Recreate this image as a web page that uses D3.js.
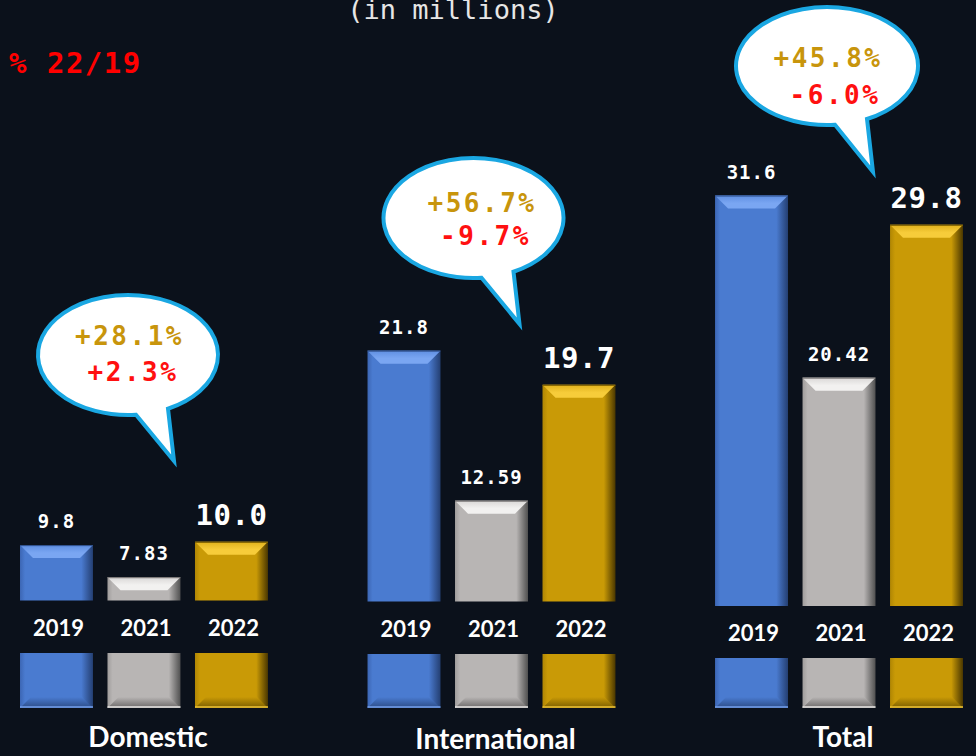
<!DOCTYPE html>
<html>
<head>
<meta charset="utf-8">
<script src="https://cdn.jsdelivr.net/npm/d3@7/dist/d3.min.js"></script>
<style>
  html,body{margin:0;padding:0;background:#0b111b;}
  svg{display:block;}
</style>
</head>
<body>
<svg id="chart" width="976" height="756"></svg>
<script>
// ---------- DATA ----------
const groups = ["Domestic", "International", "Total"];
const years = ["2019", "2021", "2022"];
const values2019 = [9.8, 21.8, 31.6];
const values2021 = [7.83, 12.59, 20.42];
const values2022 = [10.0, 19.7, 29.8];
const change22vs21 = [28.1, 56.7, 45.8];
const change22vs19 = [2.3, -9.7, -6.0];
const titleText = "(in millions)";
const legendNote = "% 22/19";

// ---------- LAYOUT / STYLE ----------
const W = 976, H = 756;
const bg = "#0b111b";
const baselines = [600.5, 601.5, 606];
const legendTops = [653, 654, 658];
const legendBottom = 708;
const yearBaselines = [636, 637, 641];
const groupLabelBaselines = [747, 749, 747];
const bubbleCenters = [[128, 355], [473.5, 218], [827, 66]];
const bubbleRadii = [[90, 60], [90, 60], [91, 59]];
const bubbleTextOffsets = [[[1.5, -10], [5, 26]], [[8.5, -6], [12, 27]], [[1, 1], [8, 38]]];
const mono = "'DejaVu Sans Mono', monospace";
const sans = "Lato, 'Open Sans', sans-serif";

const palette = {
  "2019": {main: "#4a7bd0", left: "#3c66b4", right: "#243f72", bevelTop: "#5f8fe2", bevelBot: "#7aa6f2", dark: "#2c4c86"},
  "2021": {main: "#b8b5b4", left: "#a09d9c", right: "#505050", bevelTop: "#d9d7d6", bevelBot: "#f2f1f0", dark: "#6b6868"},
  "2022": {main: "#c99a06", left: "#b08604", right: "#4a3700", bevelTop: "#e0b11c", bevelBot: "#f7cc3a", dark: "#7a5d00"}
};
const fmtYear = {"2019": d3.format(".1f"), "2021": d3.format(".2f"), "2022": d3.format(".1f")};
const fmtPct = d => (d >= 0 ? "+" : "-") + Math.abs(d).toFixed(1) + "%";

const seriesByYear = {"2019": values2019, "2021": values2021, "2022": values2022};

// ---------- SCALES ----------
const xGroup = d3.scaleBand().domain(groups).range([20, 963]).paddingInner(0.2865).paddingOuter(0);
const xYear = d3.scaleBand().domain(years).range([0, xGroup.bandwidth()]).paddingInner(0.166).paddingOuter(0);
const yHeight = d3.scaleLinear().domain([6.4, 32]).range([0, 417]);

const svg = d3.select("#chart");
svg.append("rect").attr("width", W).attr("height", H).attr("fill", bg);

const defs = svg.append("defs");
years.forEach(y => {
  const p = palette[y];
  const g = defs.append("linearGradient").attr("id", "side" + y).attr("x1", 0).attr("x2", 1).attr("y1", 0).attr("y2", 0);
  g.append("stop").attr("offset", "0%").attr("stop-color", p.left);
  g.append("stop").attr("offset", "7%").attr("stop-color", p.main);
  g.append("stop").attr("offset", "84%").attr("stop-color", p.main);
  g.append("stop").attr("offset", "100%").attr("stop-color", p.right);
  const b = defs.append("linearGradient").attr("id", "bevel" + y).attr("x1", 0).attr("x2", 0).attr("y1", 0).attr("y2", 1);
  b.append("stop").attr("offset", "0%").attr("stop-color", p.bevelTop);
  b.append("stop").attr("offset", "60%").attr("stop-color", p.bevelBot);
  b.append("stop").attr("offset", "100%").attr("stop-color", p.bevelBot);
  const d = defs.append("linearGradient").attr("id", "bevelDark" + y).attr("x1", 0).attr("x2", 0).attr("y1", 0).attr("y2", 1);
  d.append("stop").attr("offset", "0%").attr("stop-color", p.main);
  d.append("stop").attr("offset", "100%").attr("stop-color", p.dark);
});

// ---------- TITLES ----------
svg.append("text").attr("x", 453).attr("y", 19).attr("text-anchor", "middle")
  .attr("font-family", mono).attr("font-size", 27).attr("fill", "#e6e6e6")
  .text(titleText);
svg.append("text").attr("x", 9).attr("y", 73).attr("text-anchor", "start")
  .attr("font-family", mono).attr("font-weight", "bold").attr("font-size", 29)
  .attr("letter-spacing", 1.5).attr("fill", "#ff0000")
  .text(legendNote);

// ---------- GROUPS ----------
const bevel = 13;
groups.forEach((grp, gi) => {
  const g = svg.append("g").attr("transform", `translate(${xGroup(grp)},0)`);
  const base = baselines[gi];
  const w = xYear.bandwidth();

  years.forEach(yr => {
    const v = seriesByYear[yr][gi];
    const x = xYear(yr);
    const h = yHeight(v);
    const top = base - h;
    // bar body
    g.append("rect").attr("x", x).attr("y", top).attr("width", w).attr("height", h)
      .attr("fill", `url(#side${yr})`);
    // top bevel
    g.append("path")
      .attr("d", `M${x},${top} L${x + w},${top} L${x + w - bevel},${top + bevel} L${x + bevel},${top + bevel} Z`)
      .attr("fill", `url(#bevel${yr})`);
    g.append("line").attr("x1", x).attr("x2", x + w).attr("y1", top + 0.5).attr("y2", top + 0.5)
      .attr("stroke", palette[yr].dark).attr("stroke-width", 1);
    // value label
    const big = yr === "2022";
    g.append("text").attr("x", x + w / 2).attr("y", top - 17).attr("text-anchor", "middle")
      .attr("font-family", mono).attr("font-weight", "bold")
      .attr("font-size", big ? 29 : 19).attr("letter-spacing", big ? 0.5 : 1)
      .attr("fill", "#ffffff")
      .text(fmtYear[yr](v));
    // year label
    g.append("text").attr("x", x + w / 2 + 2).attr("y", yearBaselines[gi]).attr("text-anchor", "middle")
      .attr("font-family", sans).attr("font-weight", "bold").attr("font-size", 22)
      .attr("fill", "#ffffff").text(yr);
    // legend swatch below
    const lt = legendTops[gi];
    const lh = legendBottom - lt;
    g.append("rect").attr("x", x).attr("y", lt).attr("width", w).attr("height", lh)
      .attr("fill", `url(#side${yr})`);
    const lb = 11;
    g.append("path")
      .attr("d", `M${x},${legendBottom} L${x + w},${legendBottom} L${x + w - lb},${legendBottom - lb} L${x + lb},${legendBottom - lb} Z`)
      .attr("fill", `url(#bevelDark${yr})`);
    g.append("rect").attr("x", x).attr("y", legendBottom - 2).attr("width", w).attr("height", 2)
      .attr("fill", palette[yr].bevelBot).attr("opacity", 0.7);
  });

  // group label
  g.append("text").attr("x", xGroup.bandwidth() / 2 + 4).attr("y", groupLabelBaselines[gi])
    .attr("text-anchor", "middle").attr("font-family", sans).attr("font-weight", "bold")
    .attr("font-size", 28).attr("fill", "#ffffff").text(grp);
});

// ---------- SPEECH BUBBLES ----------
groups.forEach((grp, gi) => {
  const [cx, cy] = bubbleCenters[gi];
  const [rx, ry] = bubbleRadii[gi];
  const ex = (dx) => ry * Math.sqrt(1 - (dx / rx) * (dx / rx));
  const lx = 8, rxp = 40;
  const left = [cx + lx, cy + ex(lx)];
  const right = [cx + rxp, cy + ex(rxp)];
  const tip = [cx + 46, cy + 106];
  const d = `M${left[0]},${left[1]} A${rx},${ry} 0 1 1 ${right[0]},${right[1]} L${tip[0]},${tip[1]} Z`;
  svg.append("path").attr("d", d).attr("fill", "#ffffff")
    .attr("stroke", "#1aa7e2").attr("stroke-width", 4).attr("stroke-linejoin", "miter");
  const offs = bubbleTextOffsets[gi];
  svg.append("text").attr("x", cx + offs[0][0]).attr("y", cy + offs[0][1]).attr("text-anchor", "middle")
    .attr("font-family", mono).attr("font-weight", "bold").attr("font-size", 26).attr("letter-spacing", 2.5)
    .attr("fill", "#c8950c").text(fmtPct(change22vs21[gi]));
  svg.append("text").attr("x", cx + offs[1][0]).attr("y", cy + offs[1][1]).attr("text-anchor", "middle")
    .attr("font-family", mono).attr("font-weight", "bold").attr("font-size", 26).attr("letter-spacing", 2.5)
    .attr("fill", "#ff1010").text(fmtPct(change22vs19[gi]));
});
</script>
</body>
</html>
